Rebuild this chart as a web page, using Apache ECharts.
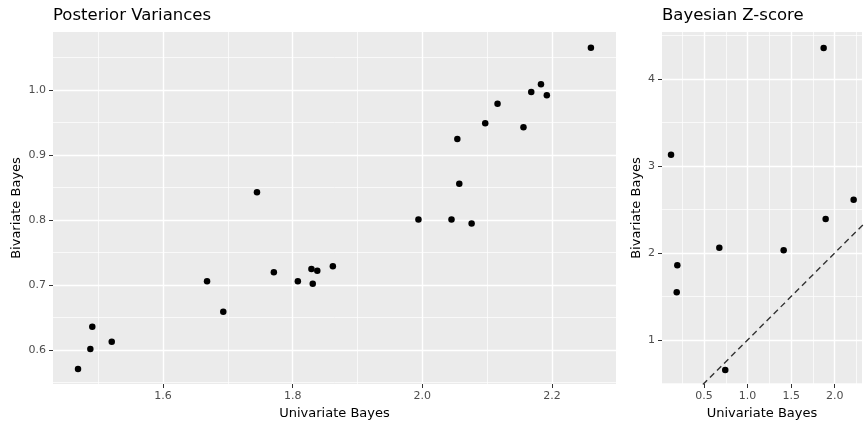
<!DOCTYPE html>
<html>
<head>
<meta charset="utf-8">
<script src="https://cdn.jsdelivr.net/npm/echarts@6/dist/echarts.min.js"></script>
<style>
html,body{margin:0;padding:0;background:#fff;}
#c{width:864px;height:421px;}
</style>
</head>
<body>
<div id="c"></div>
<script>
// Posterior variances panel
const varUni = [1.469,1.488,1.491,1.521,1.668,1.693,1.745,1.771,1.808,1.829,1.838,1.831,1.862,1.994,2.045,2.076,2.057,2.054,2.097,2.116,2.156,2.168,2.183,2.192,2.260];
const varBi  = [0.571,0.602,0.636,0.613,0.706,0.659,0.843,0.720,0.706,0.725,0.722,0.702,0.729,0.801,0.801,0.795,0.856,0.925,0.949,0.979,0.943,0.997,1.009,0.992,1.065];
// Bayesian Z-score panel
const zUni = [0.122,0.194,0.187,0.676,0.744,1.414,1.873,1.896,2.217];
const zBi  = [3.130,1.858,1.548,2.061,0.655,2.031,4.356,2.391,2.613];
// identity reference line
const refLine = [[0,0],[3,3]];

// tick labels
const varXTicks = [1.6,1.8,2.0,2.2];
const varXMinor = [1.5,1.7,1.9,2.1,2.3];
const varYTicks = [0.6,0.7,0.8,0.9,1.0];
const varYMinor = [0.55,0.65,0.75,0.85,0.95,1.05];
const zXTicks = [0.5,1.0,1.5,2.0];
const zXMinor = [0.25,0.75,1.25,1.75,2.25];
const zYTicks = [1,2,3,4];
const zYMinor = [0.5,1.5,2.5,3.5,4.5];

const FONT = 'DejaVu Sans';
const ext = {
  varX:[1.4304,2.2987], varY:[0.548,1.0894],
  zX:[0.0183,2.313], zY:[0.494,4.54]
};

function minorAxis(gridIndex, range, vals, pos){
  return {
    type:'value', gridIndex, position:pos, min:range[0], max:range[1],
    axisLine:{show:false}, axisLabel:{show:false},
    axisTick:{show:false, customValues:vals},
    splitLine:{show:true, lineStyle:{color:'#ffffff', width:0.7}}
  };
}
function majorAxis(gridIndex, range, vals, dec, name, gap, pos){
  return {
    type:'value', gridIndex, position:pos, min:range[0], max:range[1],
    name, nameLocation:'middle', nameGap:gap, nameMoveOverlap:false,
    nameTextStyle:{fontFamily:FONT, fontSize:13, color:'#000'},
    axisLine:{show:false},
    axisTick:{show:true, length:4, customValues:vals, lineStyle:{color:'#333333', width:1}},
    axisLabel:{show:true, customValues:vals, margin:7, fontFamily:FONT, fontSize:11, color:'#4D4D4D',
      formatter:v => v.toFixed(dec)},
    splitLine:{show:true, lineStyle:{color:'#ffffff', width:1.4}}
  };
}

const chart = echarts.init(document.getElementById('c'), null, {renderer:'canvas'});
chart.setOption({
  animation:false,
  backgroundColor:'#ffffff',
  title:[
    {text:'Posterior Variances', left:53, top:7, padding:0, textStyle:{fontFamily:FONT, fontSize:16.5, fontWeight:'normal', color:'#000'}},
    {text:'Bayesian Z-score', left:662, top:7, padding:0, textStyle:{fontFamily:FONT, fontSize:16.5, fontWeight:'normal', color:'#000'}}
  ],
  grid:[
    {left:53, top:32, width:563, height:352, show:true, backgroundColor:'#EBEBEB', borderWidth:0, outerBoundsMode:'none', containLabel:false},
    {left:662, top:32, width:200, height:352, show:true, backgroundColor:'#EBEBEB', borderWidth:0, outerBoundsMode:'none', containLabel:false}
  ],
  xAxis:[
    minorAxis(0, ext.varX, varXMinor, 'bottom'),
    minorAxis(1, ext.zX, zXMinor, 'bottom'),
    majorAxis(0, ext.varX, varXTicks, 1, 'Univariate Bayes', 23, 'bottom'),
    majorAxis(1, ext.zX, zXTicks, 1, 'Univariate Bayes', 23, 'bottom')
  ],
  yAxis:[
    minorAxis(0, ext.varY, varYMinor, 'left'),
    minorAxis(1, ext.zY, zYMinor, 'left'),
    majorAxis(0, ext.varY, varYTicks, 1, 'Bivariate Bayes', 30, 'left'),
    majorAxis(1, ext.zY, zYTicks, 0, 'Bivariate Bayes', 19, 'left')
  ],
  series:[
    {type:'scatter', xAxisIndex:2, yAxisIndex:2, symbol:'circle', symbolSize:6.5,
      itemStyle:{color:'#000', opacity:1}, data:varUni.map((x,i)=>[x,varBi[i]])},
    {type:'line', xAxisIndex:3, yAxisIndex:3, data:refLine, showSymbol:false, symbol:'none', clip:true,
      lineStyle:{color:'#333', width:1.4, type:[6,4]}, z:3},
    {type:'scatter', xAxisIndex:3, yAxisIndex:3, symbol:'circle', symbolSize:6.5,
      itemStyle:{color:'#000', opacity:1}, data:zUni.map((x,i)=>[x,zBi[i]]), z:4}
  ]
});
</script>
</body>
</html>
